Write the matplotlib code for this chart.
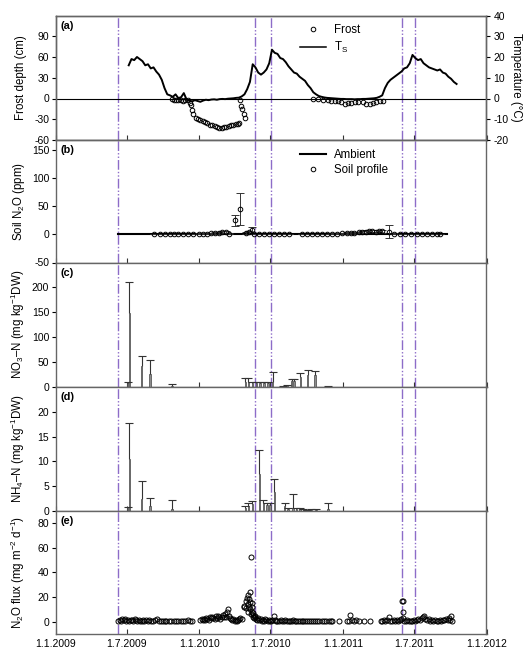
import numpy as np
import pandas as pd
import matplotlib
matplotlib.use('Agg')
import matplotlib.pyplot as plt
from matplotlib.lines import Line2D

plt.rcParams['font.family'] = ['Liberation Sans', 'DejaVu Sans']
plt.rcParams['mathtext.fontset'] = 'custom'
plt.rcParams['mathtext.rm'] = 'Liberation Sans'
plt.rcParams['mathtext.it'] = 'Liberation Sans:italic'
plt.rcParams['mathtext.default'] = 'regular'
plt.rcParams['axes.unicode_minus'] = False

# all times are days since 1.1.2009
start = pd.Timestamp('2009-01-01')
end = pd.Timestamp('2012-01-01')

tick_dates = ['2009-01-01', '2009-07-01', '2010-01-01', '2010-07-01',
              '2011-01-01', '2011-07-01', '2012-01-01']
tick_labels = ['1.1.2009', '1.7.2009', '1.1.2010', '1.7.2010',
               '1.1.2011', '1.7.2011', '1.1.2012']

# management events (vertical lines)
event_days = [159, 507, 547, 880, 913]

# (a) soil temperature, weekly from 6.7.2009
ts_start = '2009-07-06'
ts_degc = [16, 19, 18.5, 20, 19, 18, 16, 16.5, 14.5, 15,
           13, 11.5, 9, 5, 2, 1.5, 0.8, 2.0, 0.2, 0.6,
           2.6, -0.5, -1.0, -1.4, -0.8, -1.2, -1.6, -1.0, -0.6, -0.8,
           -0.5, -0.4, -0.6, -0.3, -0.2, -0.3, -0.1, 0.0, 0.1, 0.3,
           0.4, 1.0, 2.0, 4.5, 8.0, 16.5, 15.0, 12.5, 11.5, 12.5,
           14.0, 17.0, 23.5, 22.0, 21.5, 19.5, 19.0, 17.5, 15.5, 14.0,
           12.5, 12.0, 10.5, 9.5, 8.5, 6.5, 5.0, 3.0, 2.0, 1.2,
           0.8, 0.5, 0.3, 0.2, 0.1, 0.0, -0.1, -0.2, -0.2, -0.3,
           -0.3, -0.3, -0.4, -0.3, -0.3, -0.2, -0.2, -0.1, 0.0, 0.1,
           0.3, 0.8, 1.5, 5.0, 7.5, 9.0, 10.0, 11.0, 12.0, 13.0,
           14.5, 15.0, 17.0, 21.0, 19.5, 18.5, 19.0, 17.0, 16.0, 15.0,
           14.5, 14.0, 13.5, 14.0, 12.5, 12.0, 10.5, 9.5, 8.0, 7.0]

frost_days = [296, 301, 306, 312, 318, 324, 330, 336, 341, 344,
              346, 349, 356, 362, 368, 374, 380, 386, 392, 398,
              404, 410, 416, 422, 428, 434, 440, 446, 452, 458,
              463, 467, 468, 471, 474, 478, 481,
              655, 668, 680, 692, 701, 709, 718, 726, 735, 743,
              752, 760, 769, 781, 790, 798, 807, 815, 824, 832]
frost_cm = [-1, -2.5, -1.5, -2, -1.5, -3, -2, -1.5, -6, -10,
            -16, -23, -28, -30, -31, -33, -34, -36, -38, -39,
            -40, -41, -42, -42.5, -41.5, -41, -40, -39, -38, -37.5,
            -37, -36, -1.5, -11, -15, -22, -28,
            -0.5, -1, -2.4, -2.4, -3, -3.9, -4, -5, -7.3, -6.3,
            -6.3, -5.5, -4.9, -5, -7.8, -7.3, -6.3, -4.9, -4, -3]

# (b) soil profile N2O
amb_days = [159, 995]
amb_ppm = [0.33, 0.33]
soil_days = [251, 265, 277, 290, 301, 312, 324, 336, 350, 364,
             374, 385, 395, 405, 415, 423, 432, 440, 455, 469,
             483, 491, 499, 504, 517, 529, 542, 555, 567, 580,
             593, 627, 639, 652, 665, 678, 690, 703, 716, 728,
             741, 750, 758, 771, 779, 788, 796, 804, 813, 821,
             830, 847, 859, 876, 889, 902, 919, 931, 944, 957,
             970, 978]
soil_ppm = [1, 1, 1, 1, 1, 1, 1, 1, 1, 1.5,
            1.5, 1, 2, 2.5, 3, 4, 4.5, 1.5, 25, 45,
            3, 3.5, 7, 1, 1, 1, 1, 1, 1, 1,
            1, 1, 1, 1, 1, 1, 1, 1.5, 1.5, 2,
            2.5, 2, 3, 3.5, 4, 5, 5.5, 6, 5, 6,
            5.5, 5, 1.5, 1, 1, 1, 1, 1, 1, 1,
            1, 1]
soil_err = [0.3, 0.3, 0.3, 0.3, 0.3, 0.3, 0.3, 0.3, 0.3, 0.5,
            0.5, 0.3, 1, 1, 1.5, 2, 2, 0.5, 10, 29,
            2, 2, 7, 0.5, 0.3, 0.3, 0.3, 0.3, 0.3, 0.3,
            0.3, 0.3, 0.3, 0.3, 0.3, 0.3, 0.3, 0.5, 0.5, 1,
            1, 1, 1.5, 1.5, 2, 2, 2.5, 2.5, 2, 2.5,
            2.5, 11, 0.5, 0.3, 0.3, 0.3, 0.3, 0.3, 0.3, 0.3,
            0.3, 0.3]

# (c) nitrate
no3_days = [183, 188, 219, 240, 296, 482, 490, 500, 510, 520,
            530, 540, 552, 578, 588, 600, 606, 622, 641, 659, 692]
no3_vals = [8, 148, 43, 27, 2, 10, 10, 9, 9, 9,
            9, 8, 10, 2, 4, 12, 13, 20, 25, 24, 2]
no3_err = [2, 62, 20, 28, 4, 8, 9, 2, 2, 2,
           2, 2, 20, 1, 1, 4, 3, 9, 9, 8, 1]

# (d) ammonium
nh4_days = [183, 188, 219, 240, 296, 482, 490, 500, 518, 528,
            537, 545, 556, 582, 591, 603, 612, 621, 630, 640,
            650, 662, 692]
nh4_vals = [0.9, 10.4, 2.4, 1.0, 0.5, 0.7, 1.1, 1.5, 7.5, 1.6,
            1.2, 1.3, 3.9, 1.0, 0.5, 0.6, 0.4, 0.5, 0.3, 0.2,
            0.3, 0.3, 0.5]
nh4_err = [0, 7.4, 3.6, 1.7, 1.7, 0.3, 0.5, 0.5, 4.8, 0.7,
           0.5, 0.4, 2.5, 0.7, 0.2, 2.8, 0.2, 0.1, 0.1, 0.1,
           0.1, 0.1, 1.1]

# (e) N2O flux
flux_days = [160, 163, 166, 170, 173, 177, 180, 184, 187, 191,
             194, 198, 201, 205, 208, 212, 215, 219, 222, 226,
             230, 234, 238, 242, 247, 252, 257, 262, 267, 272,
             277, 282, 288, 294, 300, 306, 312, 318, 324, 330,
             336, 342, 347,
             368, 371, 374, 377, 380, 383, 386, 389, 392, 395,
             398, 401, 404, 407, 410, 413, 416, 419, 422, 425,
             428, 431, 434, 436, 438, 440, 443, 446, 449, 452,
             455, 458, 461, 464, 467, 470, 474, 478, 480, 483,
             485, 487, 488, 489, 490, 491, 492, 493, 494, 495,
             496, 497, 498, 499, 500, 501, 502, 503, 504, 506,
             508, 510, 512, 515, 518, 521, 524,
             527, 530, 533, 536, 539, 542, 545, 548, 551, 555,
             558, 561, 564, 568, 572, 576, 580, 584, 588, 592,
             596, 600, 604, 608, 612, 616, 620, 625, 630, 635,
             640, 645, 650, 655, 660, 665, 670, 676, 682, 688,
             694, 700,
             702, 719, 740, 745, 749, 753, 758, 764, 770, 783,
             800, 826, 830, 834, 838, 842, 847, 851, 855, 859,
             863, 867, 871, 875, 879, 881, 882, 883, 884, 886,
             890, 894, 898, 902, 906, 910, 914, 918, 922, 926,
             930, 934, 936, 940, 944, 948, 952, 956, 960, 964,
             968, 972, 976, 980, 984, 988, 992, 996, 1000, 1003,
             1005, 1008]
flux_vals = [1.0, 1.5, 0.8, 2.0, 1.2, 2.5, 1.0, 1.8, 0.6, 1.2,
             1.5, 0.9, 2.2, 1.1, 0.7, 1.4, 1.0, 0.5, 1.3, 0.8,
             1.1, 0.6, 1.6, 0.9, 0.4, 1.2, 2.0, 0.8, 0.5, 1.0,
             0.6, 0.9, 0.4, 0.7, 1.0, 0.5, 0.8, 0.6, 0.9, 0.7,
             1.1, 0.8, 1.0,
             1.5, 2.0, 1.2, 2.5, 1.8, 3.0, 2.2, 1.5, 3.5, 2.8,
             4.0, 3.2, 2.5, 4.5, 3.0, 5.0, 3.8, 2.5, 4.2, 5.5,
             3.5, 6.5, 4.0, 7.5, 10.3, 5.0, 3.0, 2.0, 1.5, 2.5,
             1.0, 1.5, 0.8, 1.2, 2.0, 3.2, 2.5, 12.0, 12.5, 11.0,
             17.0, 19.5, 14.0, 22.0, 8.0, 18.0, 12.0, 24.0, 16.0, 10.0,
             6.5, 52.0, 15.0, 12.0, 8.0, 5.5, 7.0, 4.0, 3.0, 5.0,
             3.8, 2.5, 1.8, 3.0, 1.2, 2.0, 1.0,
             1.5, 0.8, 2.5, 1.2, 0.7, 1.8, 1.0, 0.6, 1.2, 4.9,
             1.5, 0.8, 1.0, 0.5, 1.3, 0.9, 0.6, 1.1, 0.7, 1.0,
             0.5, 0.8, 1.2, 0.6, 0.9, 0.5, 0.7, 1.0, 0.6, 0.8,
             0.5, 0.7, 0.9, 0.4, 0.6, 0.8, 0.5, 0.6, 0.7, 0.5,
             0.6, 0.8,
             0.6, 0.8, 1.0, 0.5, 5.4, 1.2, 0.8, 1.5, 0.7, 0.9,
             0.6, 1.0, 0.5, 1.2, 0.8, 1.5, 4.0, 1.0, 0.7, 1.3,
             0.9, 1.5, 0.8, 1.1, 2.5, 17.0, 16.5, 7.8, 2.7, 1.0,
             0.6, 1.2, 0.8, 0.5, 1.0, 1.4, 0.7, 1.8, 2.2, 1.5,
             2.8, 3.5, 4.4, 2.0, 1.2, 2.5, 1.0, 1.5, 0.8, 1.8,
             1.0, 0.6, 1.3, 0.9, 1.5, 1.1, 2.0, 1.2, 2.8, 1.5,
             5.0, 0.8]


def to_date(days):
    return start + pd.to_timedelta(np.asarray(days, dtype=float), unit='D')


W, H = 526, 651
left, right = 55.5, 486.5
edges = [15.5, 140, 262.5, 387, 511, 633.5]
ev_color = '#8d6cc8'
ev_style = (0, (7, 1.5, 1, 1.5, 1, 1.5))
lab_fs = 8.3
tick_fs = 7.5

fig = plt.figure(figsize=(5.26, 6.51), dpi=100)
axes = []
for i in range(5):
    top, bot = edges[i], edges[i + 1]
    ax = fig.add_axes([left / W, 1 - bot / H, (right - left) / W, (bot - top) / H])
    ax.set_xlim(start, end)
    ax.set_xticks(pd.to_datetime(tick_dates))
    ax.set_xticklabels(tick_labels)
    ax.tick_params(axis='x', direction='in', length=3.5, width=0.8, color='#333333',
                   labelbottom=(i == 4), labelsize=tick_fs, pad=4)
    ax.tick_params(axis='y', direction='out', length=3, width=0.8, labelsize=tick_fs, pad=1.5)
    for s in ax.spines.values():
        s.set_color('#666666')
        s.set_linewidth(1.0)
    for d in event_days:
        ax.axvline(to_date([d])[0], color=ev_color, lw=1.0, ls=ev_style, zorder=1)
    ax.text(0.012, 0.918, '(' + 'abcde'[i] + ')', transform=ax.transAxes,
            fontsize=7.8, fontweight='bold', va='center', ha='left')
    axes.append(ax)

# (a)
ax = axes[0]
ax.axhline(0, color='black', lw=0.8, zorder=2)
ax.plot(to_date(frost_days), frost_cm, 'o', mfc='none', mec='black', ms=3.3, mew=0.7, zorder=3)
ax.set_ylim(-60, 120)
ax.set_yticks([-60, -30, 0, 30, 60, 90])
ax.set_ylabel('Frost depth (cm)', fontsize=lab_fs)
axt = ax.twinx()
axt.set_xlim(start, end)
ts_dates = pd.date_range(ts_start, periods=len(ts_degc), freq='7D')
axt.plot(ts_dates, ts_degc, color='black', lw=1.4)
axt.set_ylim(-20, 40)
axt.set_yticks(range(-20, 41, 10))
axt.tick_params(axis='y', direction='out', length=3, width=0.8, labelsize=tick_fs, pad=2)
for s in axt.spines.values():
    s.set_color('#666666')
    s.set_linewidth(1.0)
axt.set_ylabel('Temperature (°C)', fontsize=lab_fs, rotation=270, va='bottom')
axt.yaxis.set_label_coords(1.055, 0.5)
h_a = [Line2D([], [], ls='none', marker='o', mfc='none', mec='black', ms=3.3, mew=0.7),
       Line2D([], [], color='black', lw=1.1)]
axt.legend(h_a, ['Frost', 'T$_S$'], loc='upper left', bbox_to_anchor=(0.567, 0.93),
           frameon=False, fontsize=lab_fs, handlelength=2.3, handletextpad=0.7,
           labelspacing=0.3, borderpad=0, borderaxespad=0)

# (b)
ax = axes[1]
ax.plot(to_date(amb_days), amb_ppm, color='black', lw=1.5, zorder=3)
ax.errorbar(to_date(soil_days), soil_ppm, yerr=soil_err, fmt='o', mfc='none', mec='black',
            ms=3.3, mew=0.7, ecolor='#333333', elinewidth=0.7, capsize=2.8, capthick=0.7, zorder=4)
ax.set_ylim(-50, 168)
ax.set_yticks([-50, 0, 50, 100, 150])
ax.set_ylabel('Soil N$_2$O (ppm)', fontsize=lab_fs)
h_b = [Line2D([], [], color='black', lw=1.5),
       Line2D([], [], ls='none', marker='o', mfc='none', mec='black', ms=3.3, mew=0.7)]
ax.legend(h_b, ['Ambient', 'Soil profile'], loc='upper left', bbox_to_anchor=(0.567, 0.93),
          frameon=False, fontsize=lab_fs, handlelength=2.3, handletextpad=0.7,
          labelspacing=0.3, borderpad=0, borderaxespad=0)


def bars(ax, days, vals, err):
    x = to_date(days)
    vals = np.asarray(vals, dtype=float)
    err = np.asarray(err, dtype=float)
    ax.bar(x, vals, width=3.5, color='#8c8c8c', edgecolor='#444444', lw=0.5, zorder=3)
    ax.vlines(x, vals, vals + err, color='#333333', lw=0.8, zorder=3)
    ax.plot(x, vals + err, ls='none', marker='_', ms=6, mew=0.8, color='#333333', zorder=3)


# (c)
ax = axes[2]
bars(ax, no3_days, no3_vals, no3_err)
ax.set_ylim(0, 250)
ax.set_yticks([0, 50, 100, 150, 200])
ax.set_ylabel('NO$_3$–N (mg kg$^{-1}$DW)', fontsize=lab_fs)

# (d)
ax = axes[3]
bars(ax, nh4_days, nh4_vals, nh4_err)
ax.set_ylim(0, 25)
ax.set_yticks([0, 5, 10, 15, 20])
ax.set_ylabel('NH$_4$–N (mg kg$^{-1}$DW)', fontsize=lab_fs)

# (e)
ax = axes[4]
ax.plot(to_date(flux_days), flux_vals, 'o', mfc='none', mec='black', ms=3.6, mew=0.7, zorder=3)
ax.set_ylim(-9.5, 89.5)
ax.set_yticks([0, 20, 40, 60, 80])
ax.set_ylabel('N$_2$O flux (mg m$^{-2}$ d$^{-1}$)', fontsize=lab_fs)

for ax in axes:
    ax.yaxis.set_label_coords(-0.066, 0.5)

fig.savefig('out.png', dpi=100)
